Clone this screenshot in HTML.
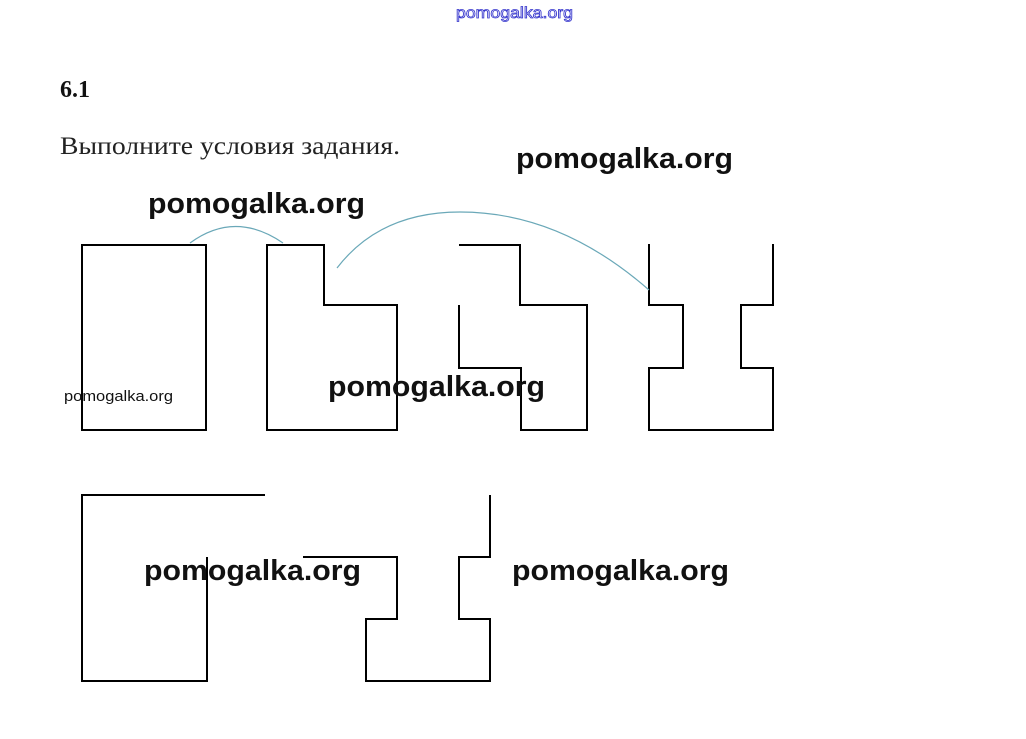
<!DOCTYPE html>
<html><head><meta charset="utf-8"><style>
html,body{margin:0;padding:0;background:#fff;}
body{width:1026px;height:739px;overflow:hidden;position:relative;}
svg{position:absolute;left:0;top:0;}
</style></head><body>
<svg width="1026" height="739" viewBox="0 0 1026 739" xmlns="http://www.w3.org/2000/svg">
<text x="456" y="18" textLength="117" lengthAdjust="spacingAndGlyphs" font-family="Liberation Sans, sans-serif" font-size="16" fill="#fff" stroke="#3333cc" stroke-width="0.8">pomogalka.org</text>
<text x="60" y="97" font-family="Liberation Serif, serif" font-weight="bold" font-size="24" fill="#111">6.1</text>
<text x="60" y="154" textLength="340" lengthAdjust="spacingAndGlyphs" font-family="Liberation Serif, serif" font-size="25" fill="#222">Выполните условия задания.</text>
<g fill="none" stroke="#000" stroke-width="2">
<rect x="82" y="245" width="124" height="185"/>
<path d="M267 245 H324 V305 H397 V430 H267 Z"/>
<path d="M459 245 H520 V305 H587 V430 H521 V368 H459 V305"/>
<path d="M649 244 V305 H683 V368 H649 V430 H773 V368 H741 V305 H773 V244"/>
<path d="M265 495 H82 V681 H207 V557"/>
<path d="M303 557 H397 V619 H366 V681 H490 V619 H459 V557 H490 V495"/>
</g>
<g fill="none" stroke="#6aa8b8" stroke-width="1.2">
<path d="M190 243 Q235 210 283 243"/>
<path d="M337 268 Q380 212 460 212 Q560 212 649 290"/>
</g>
<g font-family="Liberation Sans, sans-serif" font-weight="bold" font-size="29" fill="#111" lengthAdjust="spacingAndGlyphs">
<text x="516" y="168" textLength="217" lengthAdjust="spacingAndGlyphs">pomogalka.org</text>
<text x="148" y="213" textLength="217" lengthAdjust="spacingAndGlyphs">pomogalka.org</text>
<text x="328" y="396" textLength="217" lengthAdjust="spacingAndGlyphs">pomogalka.org</text>
<text x="144" y="580" textLength="217" lengthAdjust="spacingAndGlyphs">pomogalka.org</text>
<text x="512" y="580" textLength="217" lengthAdjust="spacingAndGlyphs">pomogalka.org</text>
</g>
<text x="64" y="401" textLength="109" lengthAdjust="spacingAndGlyphs" font-family="Liberation Sans, sans-serif" font-size="15" fill="#111">pomogalka.org</text>
</svg>
</body></html>
